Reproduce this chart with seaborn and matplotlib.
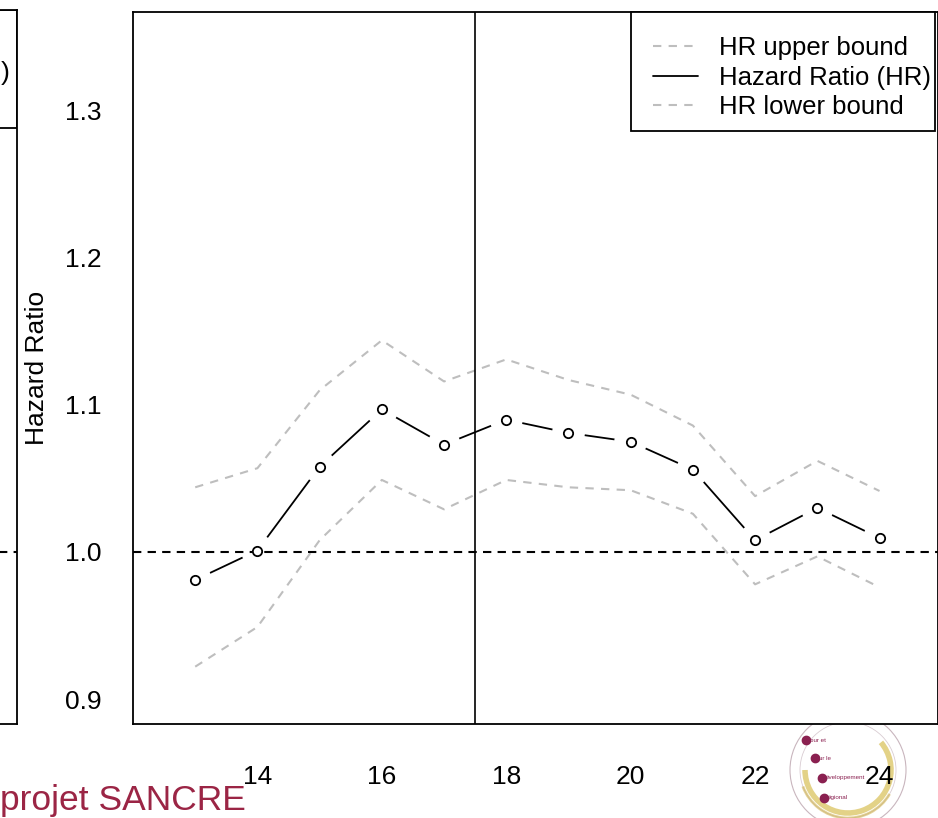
import numpy as np
import pandas as pd
import matplotlib.pyplot as plt
import seaborn as sns
from matplotlib.patches import Rectangle, Circle, Arc
from matplotlib.lines import Line2D

sns.set_theme(style="white")
plt.rcParams['font.family'] = ['Liberation Sans', 'DejaVu Sans']

# age at diagnosis (years) and hazard ratio estimates
ages = [13, 14, 15, 16, 17, 18, 19, 20, 21, 22, 23, 24]
hr = [0.981, 1.001, 1.058, 1.097, 1.073, 1.090, 1.081, 1.075, 1.056, 1.008, 1.030, 1.0095]
hr_upper = [1.044, 1.057, 1.110, 1.144, 1.116, 1.131, 1.117, 1.107, 1.086, 1.038, 1.062, 1.0415]
hr_lower = [0.922, 0.949, 1.008, 1.049, 1.029, 1.049, 1.044, 1.042, 1.026, 0.978, 0.997, 0.976]

x_ticks = [14, 16, 18, 20, 22, 24]
y_ticks = [0.9, 1.0, 1.1, 1.2, 1.3]
cut_age = 17.5
ref_hr = 1.0

df = pd.DataFrame({"age": ages, "hr": hr, "upper": hr_upper, "lower": hr_lower})

W, H = 938, 818
fig = plt.figure(figsize=(W / 100, H / 100), dpi=100)

# partial panel on the left (cropped neighbour plot)
ax0 = fig.add_axes([-0.3, 94 / H, 0.3 + 16.5 / W, 714 / H])
ax0.set_ylim(0.883, 1.3687)
ax0.set_xlim(0, 1)
ax0.axhline(ref_hr, color="black", lw=1.5, ls=(0, (4, 3)))
ax0.set_xticks([])
ax0.set_yticks([])
for s in ax0.spines.values():
    s.set_color("black")
    s.set_linewidth(1.3)
ax0.add_patch(Rectangle((0, 1 - 118 / 714), 1, 118 / 714, transform=ax0.transAxes,
                        fill=False, ec="black", lw=1.3))
fig.text(1 / W, 1 - 73 / H, ")", ha="left", va="center", fontsize=19, color="black")

# main panel
ax = fig.add_axes([133 / W, 94 / H, 805 / W, 712 / H])
ax.set_xlim(12, 24.94)
ax.set_ylim(0.883, 1.3673)

sns.lineplot(data=df, x="age", y="upper", ax=ax, color="#bebebe", lw=1.5,
             linestyle=(0, (4, 3.5)), zorder=3)
sns.lineplot(data=df, x="age", y="lower", ax=ax, color="#bebebe", lw=1.5,
             linestyle=(0, (4, 3.5)), zorder=3)
sns.lineplot(data=df, x="age", y="hr", ax=ax, color="black", lw=1.3, zorder=1)
# white halo around points so segments stop short of them (R type = "b")
sns.scatterplot(data=df, x="age", y="hr", ax=ax, s=560, color="white",
                edgecolor="none", linewidth=0, zorder=2)
ax.axhline(ref_hr, color="black", lw=1.5, ls=(0, (4, 3)), zorder=4)
ax.axvline(cut_age, color="black", lw=1.2, zorder=4)
sns.scatterplot(data=df, x="age", y="hr", ax=ax, s=45, facecolor="white",
                edgecolor="black", linewidth=1.3, zorder=5)

ax.set_xticks(x_ticks)
ax.set_xticklabels([str(v) for v in x_ticks])
ax.set_yticks(y_ticks)
ax.set_yticklabels([f"{v:.1f}" for v in y_ticks])
ax.tick_params(axis="both", direction="out", length=11.5, width=1.2,
               colors="black", labelsize=19)
ax.tick_params(axis="x", pad=18)
ax.tick_params(axis="y", pad=11)
ax.set_xlabel("")
ax.set_ylabel("Hazard Ratio", fontsize=19, color="black")
ax.yaxis.set_label_coords(-0.104, 0.5)
for s in ax.spines.values():
    s.set_color("black")
    s.set_linewidth(1.3)

# legend box drawn by hand so the padding can be uneven, as in R
ax.add_patch(Rectangle(((631 - 133) / 805, 1 - 119 / 712), (935 - 631) / 805, 119 / 712,
                       transform=ax.transAxes, facecolor="white", edgecolor="black",
                       lw=1.3, zorder=9, clip_on=False))
handles = [
    Line2D([], [], color="#bebebe", lw=1.5, ls=(0, (4, 3.5))),
    Line2D([], [], color="black", lw=1.3),
    Line2D([], [], color="#bebebe", lw=1.5, ls=(0, (4, 3.5))),
]
leg = ax.legend(handles, ["HR upper bound", "Hazard Ratio (HR)", "HR lower bound"],
                loc="upper right", bbox_to_anchor=((931 - 133) / 805, 1 - 24 / 712),
                borderaxespad=0, borderpad=0, fontsize=18.5, frameon=False,
                handlelength=1.75, handletextpad=0.8, labelspacing=0.22,
                labelcolor="black")
leg.set_zorder(10)

# slide footer
fig.text(0, 1 - 810 / H, "projet SANCRE", fontsize=25.5, color="#9b2545",
         ha="left", va="baseline")

# logo (approximate)
lax = fig.add_axes([(848 - 70) / W, (818 - 770 - 70) / H, 140 / W, 140 / H], zorder=-1)
lax.set_xlim(-70, 70)
lax.set_ylim(-70, 70)
lax.set_aspect("equal")
lax.axis("off")
lax.add_patch(Circle((0, 0), 58, fill=False, ec="#c9b6be", lw=0.8))
lax.add_patch(Circle((0, 0), 48, fill=False, ec="#d9ccd2", lw=0.6))
lax.add_patch(Arc((0, 0), 86, 86, theta1=180, theta2=40, ec="#d8bf55", lw=4, alpha=0.7))
lax.add_patch(Arc((0, 0), 96, 96, theta1=200, theta2=330, ec="#c9a830", lw=2, alpha=0.5))
for (px, py, t) in [(-42, 30, "our et"), (-33, 12, "ur le"), (-26, -8, "éveloppement"), (-24, -28, "égional")]:
    lax.plot(px, py, "o", color="#8a2050", ms=6)
    lax.text(px + 4, py, t, fontsize=4.5, color="#8a2050", va="center")

fig.savefig("out.png", dpi=100)
